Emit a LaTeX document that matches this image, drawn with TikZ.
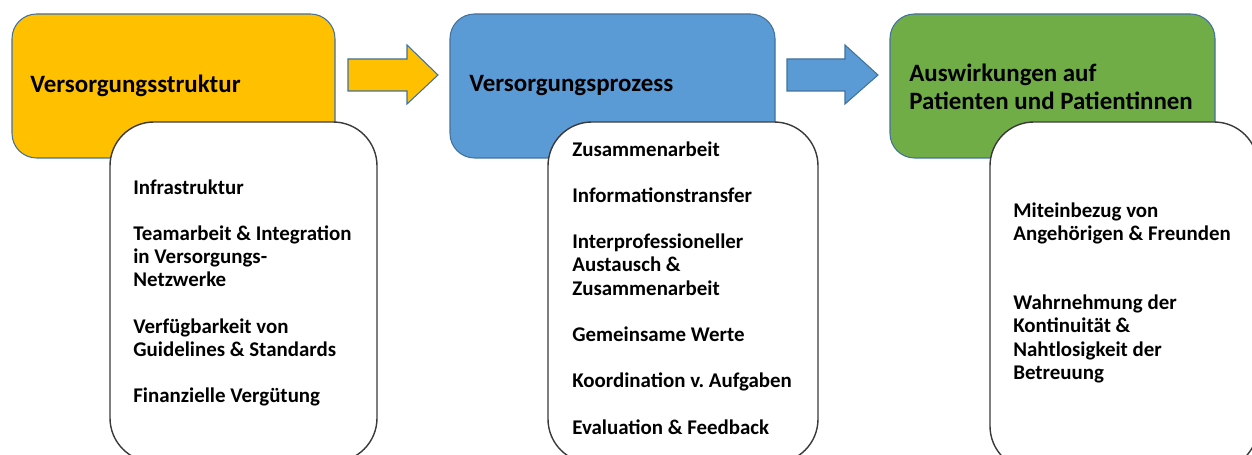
\documentclass[tikz,border=0pt]{standalone}
\usepackage{fontspec}
\setmainfont{Carlito}
\usetikzlibrary{positioning}
\definecolor{gold}{HTML}{FFC000}
\definecolor{sky}{HTML}{5B9BD5}
\definecolor{leaf}{HTML}{70AD47}
\definecolor{rim}{HTML}{41719C}
\definecolor{pen}{HTML}{3A3A3A}
\tikzset{stagebox/.style={draw=rim,line width=.6pt,rounded corners=14pt},listbox/.style={draw=pen,fill=white,line width=.8pt,rounded corners=25pt},blockarrow/.style={draw=rim,line width=.6pt},stagelabel/.style={font=\fontsize{14.2}{15.9}\selectfont\bfseries,anchor=west,align=left,inner sep=0pt},itemlabel/.style={font=\fontsize{11.9}{13.2}\selectfont\bfseries,anchor=north west,align=left,inner sep=0pt}}

\begin{document}
\begin{tikzpicture}[x=.02cm,y=-.02cm]
\useasboundingbox (0,0) rectangle (1252,455);
\clip (0,0) rectangle (1252,455);
\draw[stagebox,fill=gold] (12,14) rectangle (335,158);
\draw[stagebox,fill=sky] (450,14) rectangle (775,158);
\draw[stagebox,fill=leaf] (890,14) rectangle (1215,158);
\draw[blockarrow,fill=gold] (348,59)--(407,59)--(407,45)--(438,75)--(407,104)--(407,91)--(348,91)--cycle;
\draw[blockarrow,fill=sky] (787,59)--(845,59)--(845,45)--(878,75)--(845,104)--(845,91)--(787,91)--cycle;
\node[stagelabel] (struktur) at (30,86) {Versorgungsstruktur};
\node[stagelabel] (prozess) at (469,86) {Versorgungsprozess};
\node[stagelabel] (wirkung) at (909,87) {Auswirkungen auf\\Patienten und Patientinnen};
\draw[listbox] (110,122) rectangle (377,462);
\draw[listbox] (548,122) rectangle (818,463);
\draw[listbox] (990,122) rectangle (1258,470);
\node[itemlabel] (strukturlist) at (133,179) {Infrastruktur\\[13.2pt]
Teamarbeit \& Integration\\in Versorgungs-\\Netzwerke\\[13.2pt]
Verfügbarkeit von\\Guidelines \& Standards\\[13.2pt]
Finanzielle Vergütung};
\node[itemlabel] (prozesslist) at (572,141) {Zusammenarbeit\\[13.2pt]
Informationstransfer\\[13.2pt]
Interprofessioneller\\Austausch \&\\Zusammenarbeit\\[13.2pt]
Gemeinsame Werte\\[13.2pt]
Koordination v.\ Aufgaben\\[13.2pt]
Evaluation \& Feedback};
\node[itemlabel] (wirkunglist) at (1013,202) {Miteinbezug von\\Angehörigen \& Freunden\\[26.4pt]
Wahrnehmung der\\Kontinuität \&\\Nahtlosigkeit der\\Betreuung};
\end{tikzpicture}
\end{document}
